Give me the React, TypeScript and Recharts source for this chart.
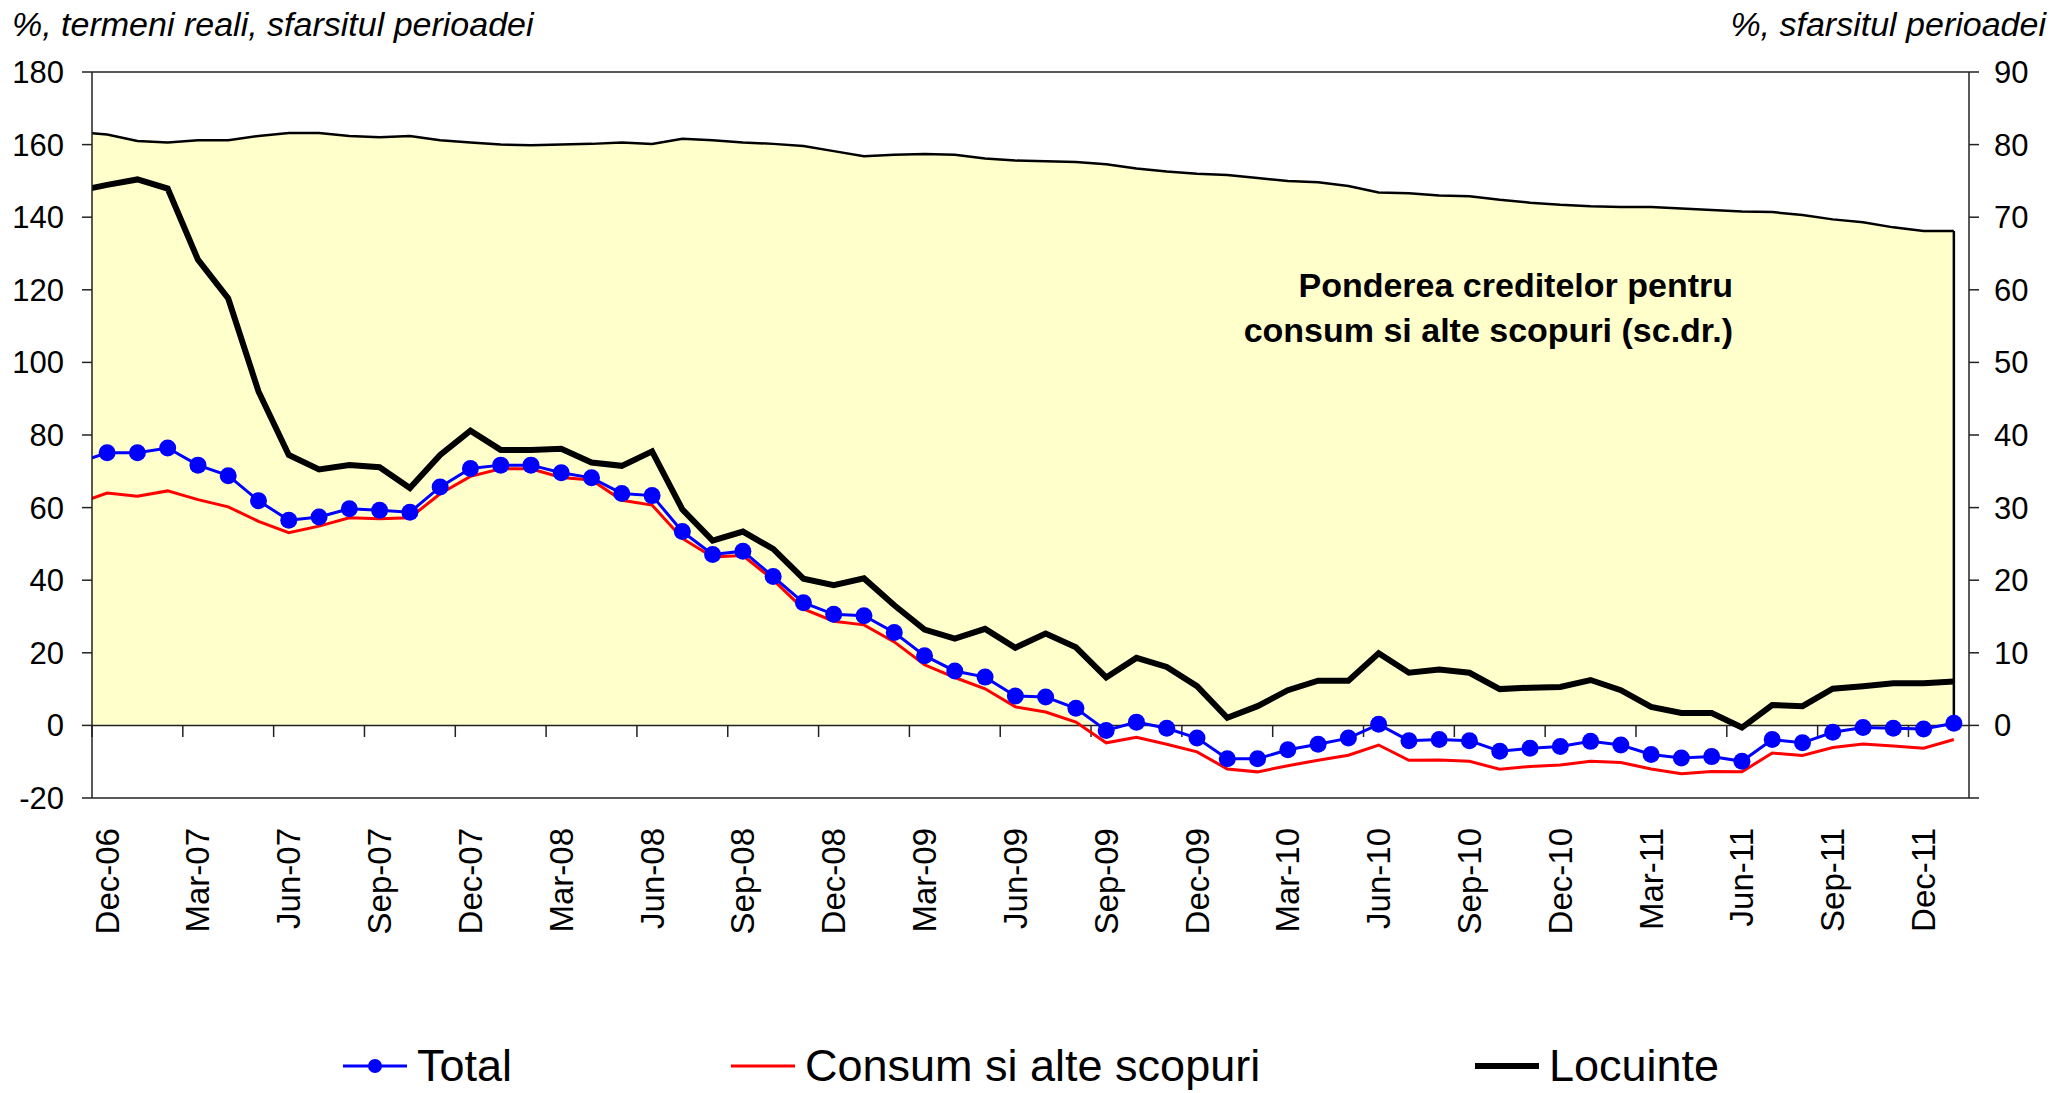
import React from 'react';
import { ComposedChart, Line, Area, XAxis, YAxis, ReferenceLine } from 'recharts';

// monthly, Nov-06 .. Jan-12 (Nov-06 sits just outside the left edge, as in the original)
const months = [
  'Nov-06', 'Dec-06',
  'Jan-07', 'Feb-07', 'Mar-07', 'Apr-07', 'May-07', 'Jun-07', 'Jul-07', 'Aug-07', 'Sep-07', 'Oct-07', 'Nov-07', 'Dec-07',
  'Jan-08', 'Feb-08', 'Mar-08', 'Apr-08', 'May-08', 'Jun-08', 'Jul-08', 'Aug-08', 'Sep-08', 'Oct-08', 'Nov-08', 'Dec-08',
  'Jan-09', 'Feb-09', 'Mar-09', 'Apr-09', 'May-09', 'Jun-09', 'Jul-09', 'Aug-09', 'Sep-09', 'Oct-09', 'Nov-09', 'Dec-09',
  'Jan-10', 'Feb-10', 'Mar-10', 'Apr-10', 'May-10', 'Jun-10', 'Jul-10', 'Aug-10', 'Sep-10', 'Oct-10', 'Nov-10', 'Dec-10',
  'Jan-11', 'Feb-11', 'Mar-11', 'Apr-11', 'May-11', 'Jun-11', 'Jul-11', 'Aug-11', 'Sep-11', 'Oct-11', 'Nov-11', 'Dec-11',
  'Jan-12',
];

const total = [
  72.3, 75.1,
  75.1, 76.4, 71.7, 68.8, 61.9, 56.5, 57.4, 59.7, 59.3, 58.7, 65.7, 70.8,
  71.7, 71.7, 69.6, 68.2, 63.9, 63.3, 53.4, 47.1, 48.0, 41.0, 33.8, 30.6,
  30.2, 25.6, 19.2, 15.0, 13.3, 8.1, 7.8, 4.7, -1.4, 0.9, -0.8, -3.5,
  -9.2, -9.2, -6.7, -5.2, -3.5, 0.3, -4.2, -3.9, -4.2, -7.1, -6.3, -5.8,
  -4.4, -5.4, -8.0, -9.0, -8.6, -9.9, -3.9, -4.8, -1.9, -0.6, -0.8, -1.0,
  0.6,
];

const consum = [
  61.1, 64.0,
  63.1, 64.6, 62.2, 60.2, 56.2, 53.1, 54.9, 57.2, 56.9, 57.2, 63.8, 68.6,
  70.7, 70.7, 68.3, 67.6, 62.0, 60.7, 51.5, 46.4, 46.8, 40.1, 32.1, 28.7,
  27.7, 23.0, 16.7, 13.2, 10.1, 5.1, 3.7, 0.9, -4.8, -3.3, -5.2, -7.3,
  -12.0, -12.8, -11.1, -9.6, -8.2, -5.4, -9.6, -9.5, -9.9, -12.1, -11.3, -10.9,
  -9.9, -10.2, -12.0, -13.3, -12.7, -12.8, -7.6, -8.3, -6.1, -5.1, -5.7, -6.3,
  -3.9,
];

const locuinte = [
  147.2, 148.9,
  150.4, 147.9, 128.3, 117.6, 92.0, 74.5, 70.5, 71.7, 71.1, 65.4, 74.5, 81.2,
  75.9, 75.9, 76.2, 72.4, 71.5, 75.5, 59.5, 50.9, 53.4, 48.6, 40.4, 38.6,
  40.5, 33.1, 26.4, 23.9, 26.6, 21.4, 25.3, 21.5, 13.2, 18.6, 16.1, 10.8,
  2.1, 5.3, 9.7, 12.3, 12.3, 19.9, 14.5, 15.4, 14.5, 10.0, 10.4, 10.6,
  12.5, 9.7, 5.1, 3.4, 3.4, -0.6, 5.6, 5.3, 10.1, 10.8, 11.6, 11.6,
  12.1,
];

// share of consumer & other loans (right axis)
const share = [
  81.7, 81.4,
  80.5, 80.3, 80.6, 80.6, 81.2, 81.6, 81.6, 81.2, 81.0, 81.2, 80.6, 80.3,
  80.0, 79.9, 80.0, 80.1, 80.3, 80.1, 80.8, 80.6, 80.3, 80.1, 79.8, 79.1,
  78.4, 78.6, 78.7, 78.6, 78.1, 77.8, 77.7, 77.6, 77.3, 76.7, 76.3, 76.0,
  75.8, 75.4, 75.0, 74.8, 74.3, 73.4, 73.3, 73.0, 72.9, 72.4, 72.0, 71.7,
  71.5, 71.4, 71.4, 71.2, 71.0, 70.8, 70.7, 70.3, 69.7, 69.3, 68.6, 68.1,
  68.1,
];

const tickLabels = [
  'Dec-06', 'Mar-07', 'Jun-07', 'Sep-07', 'Dec-07', 'Mar-08', 'Jun-08', 'Sep-08', 'Dec-08', 'Mar-09', 'Jun-09',
  'Sep-09', 'Dec-09', 'Mar-10', 'Jun-10', 'Sep-10', 'Dec-10', 'Mar-11', 'Jun-11', 'Sep-11', 'Dec-11',
];
const leftTicks = [-20, 0, 20, 40, 60, 80, 100, 120, 140, 160, 180];
const rightTicks = [-10, 0, 10, 20, 30, 40, 50, 60, 70, 80, 90];

const legendItems = [
  { name: 'Total', color: '#0000FF', width: 3, marker: true, x: 343 },
  { name: 'Consum si alte scopuri', color: '#FF0000', width: 3, marker: false, x: 731 },
  { name: 'Locuinte', color: '#000000', width: 6, marker: false, x: 1475 },
];

const FONT = '"Liberation Sans", Arial, Helvetica, sans-serif';
const AXIS = '#222';

// index 0 = Dec-06
const data = months.map((m, k) => ({
  i: k - 1,
  month: m,
  total: total[k],
  consum: consum[k],
  locuinte: locuinte[k],
  share: share[k],
}));

const labelTicks = tickLabels.map((l) => months.indexOf(l) - 1);
const boundaryTicks = labelTicks.map((t) => t - 0.5);
const lastI = months.length - 2;

const MonthTick = (props: any) => {
  const { x, y, payload } = props;
  return (
    <text
      x={x}
      y={y}
      transform={`rotate(-90 ${x} ${y})`}
      textAnchor="end"
      dominantBaseline="central"
      fontSize={33}
      fontFamily={FONT}
      fill="#000"
    >
      {months[payload.value + 1]}
    </text>
  );
};

export default function App() {
  return (
    <div style={{ position: 'absolute', left: 0, top: 0, width: 2072, height: 1093, background: '#fff', fontFamily: FONT }}>
      <ComposedChart width={2072} height={1093} data={data} margin={{ top: 72, right: 0, bottom: 0, left: 0 }}>
        <XAxis
          type="number"
          dataKey="i"
          domain={[-0.5, lastI + 0.5]}
          allowDataOverflow
          ticks={labelTicks}
          interval={0}
          tick={<MonthTick />}
          tickLine={false}
          tickSize={0}
          tickMargin={30}
          height={295}
          axisLine={{ stroke: AXIS, strokeWidth: 1.5 }}
        />
        <YAxis
          yAxisId="left"
          domain={[-20, 180]}
          ticks={leftTicks}
          interval={0}
          width={92}
          tickSize={10}
          tickMargin={18}
          tick={{ fontSize: 31, fill: '#000', fontFamily: FONT }}
          axisLine={{ stroke: AXIS, strokeWidth: 1.5 }}
          tickLine={{ stroke: AXIS, strokeWidth: 1.5 }}
        />
        <YAxis
          yAxisId="right"
          orientation="right"
          domain={[-10, 90]}
          ticks={rightTicks}
          interval={0}
          width={103}
          tickSize={10}
          tickMargin={15}
          tickFormatter={(v: number) => (v < 0 ? '' : String(v))}
          tick={{ fontSize: 31, fill: '#000', fontFamily: FONT }}
          axisLine={{ stroke: AXIS, strokeWidth: 1.5 }}
          tickLine={{ stroke: AXIS, strokeWidth: 1.5 }}
        />
        <Area
          yAxisId="right"
          type="linear"
          dataKey="share"
          fill="#FFFFCC"
          fillOpacity={1}
          stroke="#000"
          strokeWidth={2.5}
          dot={false}
          activeDot={false}
          isAnimationActive={false}
        />
        <ReferenceLine
          yAxisId="right"
          segment={[{ x: lastI, y: 0 }, { x: lastI, y: share[share.length - 1] }]}
          stroke="#000"
          strokeWidth={2.5}
        />
        <ReferenceLine yAxisId="left" y={180} stroke={AXIS} strokeWidth={1.5} />
        <ReferenceLine yAxisId="left" y={0} stroke={AXIS} strokeWidth={1.5} />
        {boundaryTicks.map((b) => (
          <ReferenceLine
            key={b}
            yAxisId="left"
            segment={[{ x: b, y: 0 }, { x: b, y: -3.2 }]}
            stroke={AXIS}
            strokeWidth={1.5}
          />
        ))}
        <Line
          yAxisId="left"
          type="linear"
          dataKey="locuinte"
          stroke="#000"
          strokeWidth={6}
          dot={false}
          activeDot={false}
          isAnimationActive={false}
        />
        <Line
          yAxisId="left"
          type="linear"
          dataKey="consum"
          stroke="#FF0000"
          strokeWidth={3}
          dot={false}
          activeDot={false}
          isAnimationActive={false}
        />
        <Line
          yAxisId="left"
          type="linear"
          dataKey="total"
          stroke="#0000FF"
          strokeWidth={3}
          dot={{ r: 8.5, fill: '#0000FF', stroke: '#0000FF', strokeWidth: 0 }}
          activeDot={false}
          isAnimationActive={false}
        />
      </ComposedChart>

      <svg
        width={2072}
        height={1093}
        style={{ position: 'absolute', left: 0, top: 0, pointerEvents: 'none' }}
        fontFamily={FONT}
      >
        <text x={12} y={36} fontSize={34} fontStyle="italic" fill="#000">
          %, termeni reali, sfarsitul perioadei
        </text>
        <text x={2046} y={36} fontSize={34} fontStyle="italic" fill="#000" textAnchor="end">
          %, sfarsitul perioadei
        </text>
        <text x={1733} y={297} fontSize={34} fontWeight="bold" fill="#000" textAnchor="end">
          Ponderea creditelor pentru
        </text>
        <text x={1733} y={342} fontSize={34} fontWeight="bold" fill="#000" textAnchor="end">
          consum si alte scopuri (sc.dr.)
        </text>
        {legendItems.map((it) => (
          <g key={it.name}>
            <line x1={it.x} x2={it.x + 64} y1={1066} y2={1066} stroke={it.color} strokeWidth={it.width} />
            {it.marker && <circle cx={it.x + 32} cy={1066} r={7} fill={it.color} />}
            <text x={it.x + 74} y={1081} fontSize={45} fill="#000">
              {it.name}
            </text>
          </g>
        ))}
      </svg>
    </div>
  );
}
